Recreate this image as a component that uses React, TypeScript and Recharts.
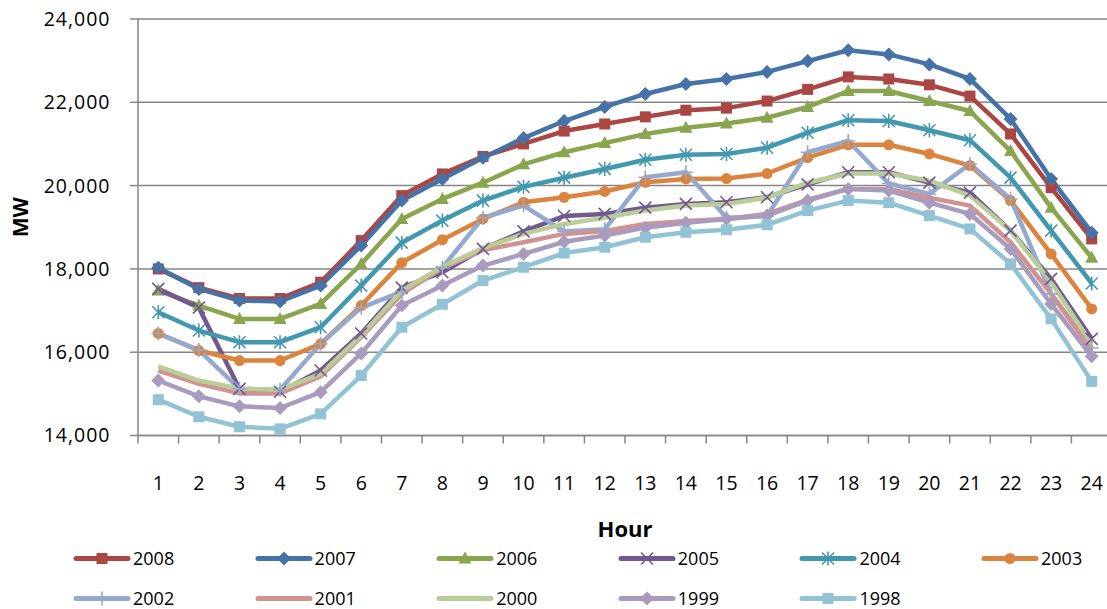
import React from "react";
import { LineChart, Line, XAxis, YAxis, CartesianGrid } from "recharts";

const hours = [1, 2, 3, 4, 5, 6, 7, 8, 9, 10, 11, 12, 13, 14, 15, 16, 17, 18, 19, 20, 21, 22, 23, 24];

const mw2008 = [18000, 17550, 17290, 17290, 17680, 18680, 19760, 20280, 20700, 21000, 21310, 21480, 21650, 21810, 21860, 22030, 22310, 22610, 22560, 22420, 22150, 21240, 19950, 18720];
const mw2007 = [18030, 17520, 17240, 17220, 17600, 18560, 19640, 20160, 20670, 21140, 21550, 21890, 22200, 22440, 22560, 22730, 22990, 23250, 23150, 22910, 22560, 21600, 20160, 18870];
const mw2006 = [17480, 17120, 16800, 16800, 17160, 18120, 19200, 19680, 20070, 20510, 20800, 21020, 21240, 21390, 21490, 21630, 21890, 22270, 22270, 22030, 21790, 20830, 19470, 18270];
const mw2005 = [17520, 17070, 15120, 15050, 15560, 16450, 17550, 17920, 18480, 18900, 19270, 19320, 19470, 19560, 19600, 19720, 20030, 20320, 20320, 20070, 19830, 18920, 17760, 16320];
const mw2004 = [16960, 16520, 16240, 16240, 16600, 17600, 18630, 19160, 19640, 19970, 20190, 20400, 20620, 20740, 20760, 20910, 21270, 21570, 21550, 21330, 21090, 20190, 18920, 17650];
const mw2003 = [16450, 16040, 15800, 15800, 16200, 17120, 18150, 18700, 19200, 19600, 19720, 19860, 20080, 20160, 20170, 20290, 20670, 20980, 20980, 20760, 20480, 19640, 18360, 17040];
const mw2002 = [16450, 16050, 15120, 15100, 16200, 17070, 17450, 18030, 19230, 19520, 18900, 18950, 20200, 20320, 19230, 19270, 20800, 21070, 20050, 19800, 20520, 19680, 17400, 16100];
const mw2001 = [15560, 15240, 15010, 15010, 15420, 16360, 17400, 18020, 18450, 18640, 18840, 18910, 19080, 19150, 19200, 19320, 19660, 19920, 19920, 19710, 19520, 18640, 17400, 16040];
const mw2000 = [15660, 15320, 15130, 15100, 15480, 16400, 17480, 18050, 18500, 18840, 19080, 19230, 19400, 19520, 19560, 19710, 20070, 20290, 20290, 20120, 19760, 18920, 17680, 16200];
const mw1999 = [15320, 14940, 14700, 14660, 15040, 15970, 17120, 17600, 18080, 18360, 18650, 18800, 18990, 19110, 19200, 19280, 19640, 19920, 19880, 19590, 19320, 18480, 17160, 15900];
const mw1998 = [14860, 14450, 14210, 14160, 14520, 15440, 16600, 17150, 17720, 18040, 18380, 18520, 18760, 18880, 18940, 19060, 19400, 19640, 19590, 19280, 18960, 18120, 16800, 15300];

const yTicks = [14000, 16000, 18000, 20000, 22000, 24000];

type MarkerKind = "square" | "diamond" | "triangle" | "x" | "star" | "circle" | "plus" | "none";

const series: { name: string; values: number[]; color: string; marker: MarkerKind }[] = [
  { name: "2008", values: mw2008, color: "#AA4643", marker: "square" },
  { name: "2007", values: mw2007, color: "#4572A7", marker: "diamond" },
  { name: "2006", values: mw2006, color: "#89A54E", marker: "triangle" },
  { name: "2005", values: mw2005, color: "#71588F", marker: "x" },
  { name: "2004", values: mw2004, color: "#4198AF", marker: "star" },
  { name: "2003", values: mw2003, color: "#DB843D", marker: "circle" },
  { name: "2002", values: mw2002, color: "#93A9CF", marker: "plus" },
  { name: "2001", values: mw2001, color: "#D19392", marker: "none" },
  { name: "2000", values: mw2000, color: "#B9CD96", marker: "none" },
  { name: "1999", values: mw1999, color: "#A99BBD", marker: "diamond" },
  { name: "1998", values: mw1998, color: "#92C3D5", marker: "square" },
];

const data = hours.map((h, i) => {
  const row: Record<string, number> = { hour: h };
  series.forEach((s) => (row[s.name] = s.values[i]));
  return row;
});

const CHART_W = 1120;
const CHART_H = 609;
const Y_W = 138;
const M_RIGHT = 8;
const BAND = (CHART_W - Y_W - M_RIGHT) / hours.length;
const GRID = "#868686";

function marker(kind: MarkerKind, cx: number, cy: number, color: string, key: string) {
  switch (kind) {
    case "square":
      return <rect key={key} x={cx - 5.5} y={cy - 5.5} width={11} height={11} fill={color} />;
    case "diamond":
      return (
        <polygon key={key} points={`${cx},${cy - 7} ${cx + 7},${cy} ${cx},${cy + 7} ${cx - 7},${cy}`} fill={color} />
      );
    case "triangle":
      return (
        <polygon key={key} points={`${cx},${cy - 7} ${cx + 6.5},${cy + 5} ${cx - 6.5},${cy + 5}`} fill={color} />
      );
    case "x":
      return (
        <path key={key} d={`M${cx - 6},${cy - 6}L${cx + 6},${cy + 6}M${cx - 6},${cy + 6}L${cx + 6},${cy - 6}`} stroke={color} strokeWidth={1.6} fill="none" />
      );
    case "star":
      return (
        <path
          key={key}
          d={`M${cx - 6},${cy - 6}L${cx + 6},${cy + 6}M${cx - 6},${cy + 6}L${cx + 6},${cy - 6}M${cx},${cy - 7}L${cx},${cy + 7}`}
          stroke={color}
          strokeWidth={1.6}
          fill="none"
        />
      );
    case "circle":
      return <circle key={key} cx={cx} cy={cy} r={5.5} fill={color} />;
    case "plus":
      return (
        <path key={key} d={`M${cx - 7},${cy}L${cx + 7},${cy}M${cx},${cy - 7}L${cx},${cy + 7}`} stroke={color} strokeWidth={1.6} fill="none" />
      );
    default:
      return <g key={key} />;
  }
}

const HourTick = (props: any) => {
  const { x, y, payload, index } = props;
  const axisY = y - 8;
  return (
    <g>
      <line x1={x - BAND / 2} x2={x - BAND / 2} y1={axisY} y2={axisY + 8} stroke={GRID} strokeWidth={1.5} />
      {index === hours.length - 1 && (
        <line x1={x + BAND / 2} x2={x + BAND / 2} y1={axisY} y2={axisY + 8} stroke={GRID} strokeWidth={1.5} />
      )}
      <text x={x} y={y} dy={46} textAnchor="middle" fontSize={19.5} fill="#000">
        {payload.value}
      </text>
    </g>
  );
};

const LegendRow = () => (
  <>
    {series.map((s, i) => {
      const col = i % 6;
      const row = Math.floor(i / 6);
      return (
        <div
          key={s.name}
          style={{
            position: "absolute",
            left: 73 + col * 181.6,
            top: 548 + row * 40,
            height: 21,
            lineHeight: "21px",
            display: "flex",
            alignItems: "center",
            fontSize: 18,
            color: "#000",
          }}
        >
          <svg width={58} height={21} style={{ display: "block" }}>
            <line x1={3} x2={55} y1={10.5} y2={10.5} stroke={s.color} strokeWidth={5} strokeLinecap="round" />
            {marker(s.marker, 29, 10.5, s.color, "m")}
          </svg>
          <span style={{ marginLeft: 2 }}>{s.name}</span>
        </div>
      );
    })}
  </>
);

export default function App() {
  return (
    <div
      style={{
        position: "absolute",
        left: 0,
        top: 0,
        width: 1107,
        height: 609,
        overflow: "hidden",
        background: "#fff",
        fontFamily: "'Open Sans', sans-serif",
      }}
    >
      <LineChart width={CHART_W} height={CHART_H} data={data} margin={{ top: 19, right: M_RIGHT, bottom: 68.5, left: 0 }}>
        <CartesianGrid vertical={false} stroke={GRID} strokeWidth={1.5} />
        <XAxis
          dataKey="hour"
          interval={0}
          padding={{ left: BAND / 2, right: BAND / 2 }}
          tickLine={false}
          tickSize={8}
          tickMargin={0}
          axisLine={{ stroke: GRID, strokeWidth: 1.5 }}
          tick={<HourTick />}
          height={105}
          label={{ value: "Hour", position: "insideBottom", offset: 4, style: { fontWeight: "bold", fontSize: 22, fill: "#000" } }}
        />
        <YAxis
          width={Y_W}
          domain={[14000, 24000]}
          ticks={yTicks}
          interval={0}
          tickSize={8}
          tickMargin={19.5}
          tickFormatter={(v: number) => v.toLocaleString("en-US")}
          tick={{ fill: "#000", fontSize: 19.5, letterSpacing: 1 }}
          tickLine={{ stroke: GRID, strokeWidth: 1.5 }}
          axisLine={{ stroke: GRID, strokeWidth: 1.5 }}
          label={{
            value: "MW",
            angle: -90,
            position: "insideLeft",
            offset: 21,
            dy: -10,
            style: { textAnchor: "middle", fontWeight: "bold", fontSize: 21, fill: "#000" },
          }}
        />
        {series.map((s) => (
          <Line
            key={s.name}
            dataKey={s.name}
            stroke={s.color}
            strokeWidth={4.5}
            strokeLinejoin="round"
            isAnimationActive={false}
            activeDot={false}
            dot={
              s.marker === "none"
                ? false
                : (p: any) => marker(s.marker, p.cx, p.cy, s.color, `${s.name}-${p.index}`)
            }
          />
        ))}
      </LineChart>
      <LegendRow />
    </div>
  );
}
